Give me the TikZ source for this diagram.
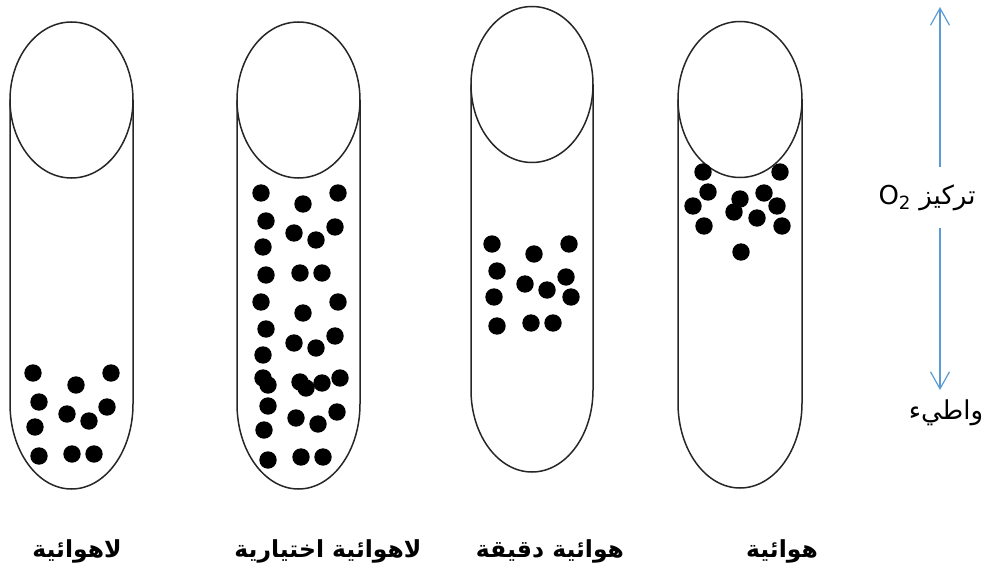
\documentclass[tikz,border=0pt]{standalone}
\usepackage{fontspec}
\newfontfamily\arabicfont[Script=Arabic]{DejaVu Sans}
\TeXXeTstate=1
\usetikzlibrary{arrows.meta}
\definecolor{arrowblue}{RGB}{91,155,213}
\tikzset{
  tubeline/.style={line width=1.5pt, draw=black!85},
  cell/.style={fill=black},
  o2arrow/.style={line width=1.2pt, draw=arrowblue, -{Straight Barb[length=17pt, width=19pt, line width=1.2pt]}},
  tubelabel/.style={font=\arabicfont\bfseries\fontsize{23.5}{26}\selectfont, inner sep=0pt},
  scalelabel/.style={font=\arabicfont\fontsize{26}{30}\selectfont, inner sep=0pt}
}
\begin{document}
\begin{tikzpicture}[x=1pt, y=-1pt]
        \useasboundingbox (0,0) rectangle (988,575);
        \def\dotr{8.7pt}

        % Tubes: centre x / circle centre y / half width / end of walls / bottom radius
        \foreach \cx/\cy/\rx/\yw/\ryb in {71.5/100/61.5/404/85, 298.5/100/61.5/404/85, 532/84.5/61/390/82, 740/99.5/62/403/85}{
            \draw[tubeline] (\cx-\rx, \cy) -- (\cx-\rx, \yw)
                arc[start angle=180, end angle=360, x radius=\rx pt, y radius=\ryb pt] -- (\cx+\rx, \cy);
            \draw[tubeline] (\cx, \cy) ellipse [x radius=\rx pt, y radius=78pt];
        }

        % Tube 1: cells at the bottom
        \foreach \x/\y in {33/373, 76/385, 111/373, 39/402, 67/414, 89/421, 107/407, 35/427, 39/456, 72/454, 94/454}
            \fill[cell] (\x,\y) circle (\dotr);

        % Tube 2: cells all through
        \foreach \x/\y in {261/193, 303/204, 338/193, 266/221, 294/233, 316/240, 335/227, 263/247,
                           266/275, 300/273, 322/273, 261/302, 303/313, 338/302, 266/329, 294/343,
                           316/348, 335/336, 263/355, 263/378, 268/385, 300/382, 306/388, 322/383,
                           340/378, 268/406, 296/418, 318/424, 337/412, 264/430, 268/460, 301/457, 323/457}
            \fill[cell] (\x,\y) circle (\dotr);

        % Tube 3: cells a little below the top
        \foreach \x/\y in {492/244, 534/254, 569/244, 497/271, 525/284, 547/290, 566/277, 494/297,
                           571/297, 497/326, 531/323, 553/323}
            \fill[cell] (\x,\y) circle (\dotr);

        % Tube 4: cells at the top
        \foreach \x/\y in {703/172, 780/172, 708/192, 693/206, 740/199, 734/212, 764/193, 777/206,
                           757/218, 704/226, 782/226, 741/252}
            \fill[cell] (\x,\y) circle (\dotr);

        % Labels under the tubes
        \node[tubelabel] (anaer) at (77,551) {\beginR لاهوائية\endR};
        \node[tubelabel] (facult) at (328,551) {\beginR لاهوائية اختيارية\endR};
        \node[tubelabel] (micro) at (550,551) {\beginR هوائية دقيقة\endR};
        \node[tubelabel] (aer) at (782,551) {\beginR هوائية\endR};

        % O2 scale
        \coordinate (o2top) at (940,7);
        \coordinate (o2bot) at (940,390);
        \node[scalelabel, minimum height=61pt] (conc) at (927,197.5) {\beginR تركيز \beginL O\textsubscript{2}\endL\endR};
        \node[scalelabel] (low) at (946,413) {\beginR واطيء\endR};
        \draw[o2arrow] (conc.north -| o2top) -- (o2top);
        \draw[o2arrow] (conc.south -| o2bot) -- (o2bot);
    \end{tikzpicture}
\end{document}
